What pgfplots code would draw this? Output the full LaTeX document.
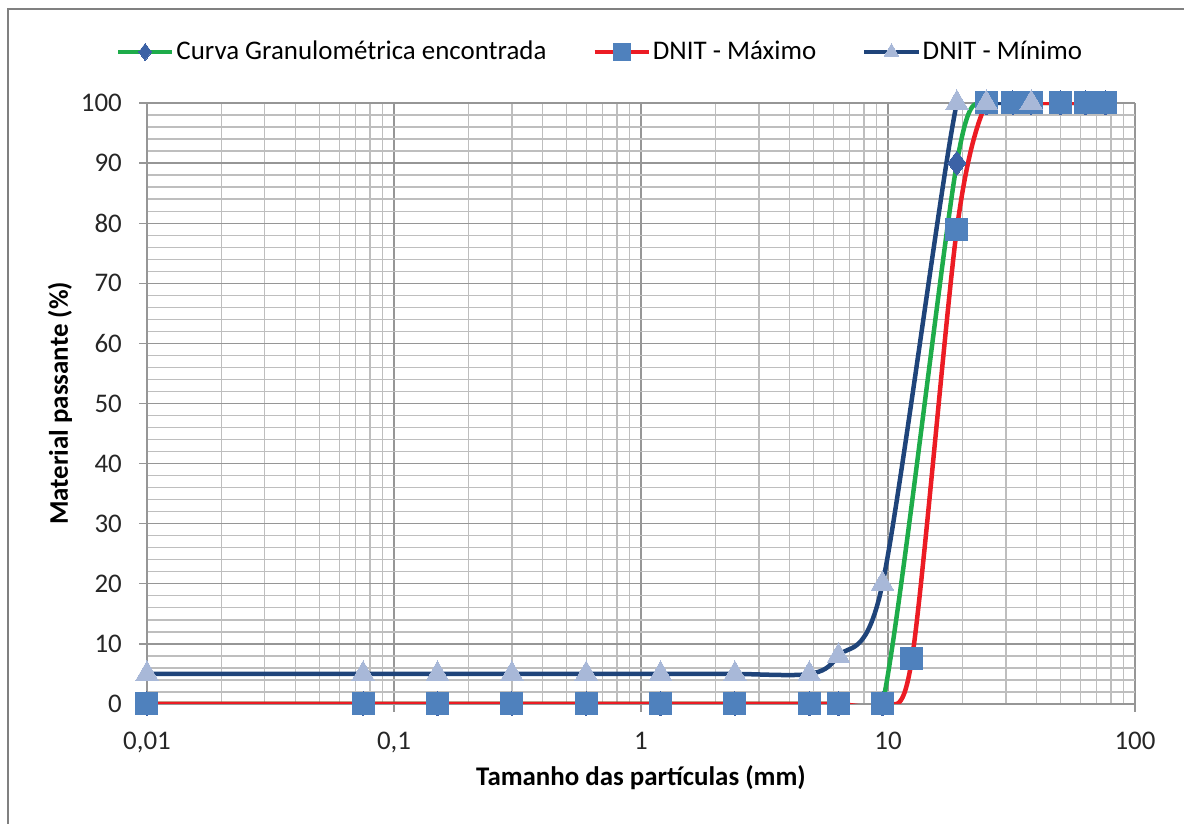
\documentclass[border=0pt]{standalone}
\usepackage{pgfplots}
\pgfplotsset{compat=1.18}
\usepackage{fontspec}
\setmainfont{Carlito}

\definecolor{cGreen}{RGB}{30,172,74}
\definecolor{cRed}{RGB}{236,28,36}
\definecolor{cNavy}{RGB}{31,68,122}
\definecolor{cSquare}{RGB}{79,129,189}
\definecolor{cTri}{RGB}{168,184,216}
\definecolor{cDiamond}{RGB}{60,98,166}
\definecolor{cMajor}{RGB}{150,150,150}
\definecolor{cMinor}{RGB}{190,190,190}
\definecolor{cFrame}{RGB}{128,128,128}

\newcommand{\chartfont}{\fontsize{27}{32}\selectfont}

\begin{document}
\begin{tikzpicture}[x=1bp,y=1bp]
\chartfont
% page frame (1184 x 824)
\path[use as bounding box] (0,0) rectangle (1184,824);
\draw[cFrame, line width=2.5bp] (8,0) -- (8,815) -- (1184,815);

\begin{axis}[
  at={(147bp,120bp)}, anchor=south west,
  scale only axis, width=988bp, height=601bp,
  xmode=log, xmin=0.01, xmax=100, ymin=0, ymax=100,
  xtick={0.01,0.1,1,10,100},
  xticklabels={{0,01},{0,1},1,10,100},
  ytick={0,10,...,100},
  minor y tick num=4,
  /pgf/number format/assume math mode=true,
  grid=both,
  major grid style={cMajor, line width=1.3bp},
  minor grid style={cMinor, line width=1.3bp},
  axis x line*=bottom, axis y line*=left,
  axis line style={-, cMajor, line width=1.6bp},
  tick align=outside,
  major tick length=8bp, minor tick length=0pt,
  tick style={cMajor, line width=1.3bp},
  tick label style={font=\chartfont, text=black!85},
  xticklabel style={anchor=north, yshift=-11bp},
  yticklabel style={anchor=east, xshift=-8bp},
  xlabel={\textbf{Tamanho das partículas (mm)}},
  ylabel={\textbf{Material passante (\%)}},
  every axis x label/.style={at={(axis description cs:0.5,0)}, anchor=center, yshift=-74bp, font=\chartfont},
  every axis y label/.style={at={(axis description cs:0,0.5)}, anchor=center, rotate=90, yshift=87bp, font=\chartfont},
  legend columns=3,
  legend style={at={(axis description cs:0.5,1)}, anchor=center, xshift=-41bp, yshift=51bp,
    draw=none, fill=none, font=\chartfont,
    /tikz/every even column/.append style={column sep=44bp}},
  legend image code/.code={%
    \draw[mark repeat=2, mark phase=2, mark size=8.5bp] plot coordinates {(0bp,0bp) (27bp,0bp) (54bp,0bp)};},
  every axis plot/.append style={line width=4.5bp, smooth, tension=0.5},
]

% Curva Granulométrica encontrada
\addplot[cGreen, mark=diamond*, mark size=12bp,
  mark options={fill=cDiamond, draw=cDiamond, line width=0pt}] coordinates {
  (0.01,0) (0.075,0) (0.15,0) (0.3,0) (0.6,0) (1.2,0) (2.4,0) (4.8,0) (6.3,0) (9.5,0)
  (19,90) (25,100) (32,100) (38,100) (50,100) (63,100) (76,100)};
\addlegendentry{Curva Granulométrica encontrada}

% DNIT - Máximo
\addplot[cRed, mark=square*, mark size=11bp,
  mark options={fill=cSquare, draw=cSquare, line width=0pt}] coordinates {
  (0.01,0) (0.075,0) (0.15,0) (0.3,0) (0.6,0) (1.2,0) (2.4,0) (4.8,0) (6.3,0) (9.5,0)
  (12.5,7.5) (19,79) (25,100) (32,100) (38,100) (50,100) (63,100) (76,100)};
\addlegendentry{DNIT - Máximo}

% DNIT - Mínimo
\addplot[cNavy, mark=triangle*, mark size=13bp,
  mark options={fill=cTri, draw=cTri, line width=0pt}] coordinates {
  (0.01,5) (0.075,5) (0.15,5) (0.3,5) (0.6,5) (1.2,5) (2.4,5) (4.8,5) (6.3,8) (9.5,20)
  (19,100) (25,100) (38,100)};
\addlegendentry{DNIT - Mínimo}
\end{axis}
\end{tikzpicture}
\end{document}
